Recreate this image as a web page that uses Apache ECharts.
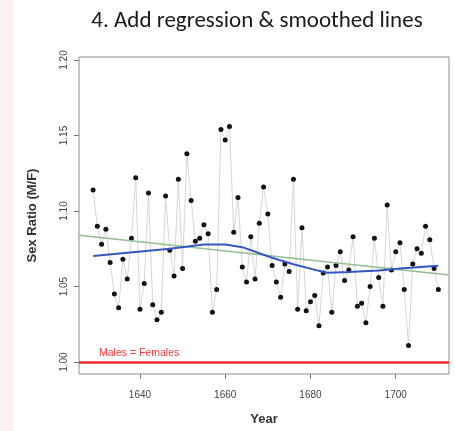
<!DOCTYPE html>
<html>
<head>
<meta charset="utf-8">
<script src="https://cdn.jsdelivr.net/npm/echarts@6/dist/echarts.min.js"></script>
<style>
  html, body { margin: 0; padding: 0; background: #ffffff; }
  #chart { width: 455px; height: 431px; }
</style>
</head>
<body>
<div id="chart"></div>
<script>
// Christenings in London: ratio of male to female births per year
const years = [
  1629, 1630, 1631, 1632, 1633, 1634, 1635, 1636, 1637, 1638, 1639,
  1640, 1641, 1642, 1643, 1644, 1645, 1646, 1647, 1648, 1649,
  1650, 1651, 1652, 1653, 1654, 1655, 1656, 1657, 1658, 1659,
  1660, 1661, 1662, 1663, 1664, 1665, 1666, 1667, 1668, 1669,
  1670, 1671, 1672, 1673, 1674, 1675, 1676, 1677, 1678, 1679,
  1680, 1681, 1682, 1683, 1684, 1685, 1686, 1687, 1688, 1689,
  1690, 1691, 1692, 1693, 1694, 1695, 1696, 1697, 1698, 1699,
  1700, 1701, 1702, 1703, 1704, 1705, 1706, 1707, 1708, 1709, 1710
];
const ratios = [
  1.114, 1.090, 1.078, 1.088, 1.066, 1.045, 1.036, 1.068, 1.055, 1.082, 1.122,
  1.035, 1.052, 1.112, 1.038, 1.028, 1.033, 1.110, 1.074, 1.057, 1.121,
  1.062, 1.138, 1.107, 1.080, 1.082, 1.091, 1.085, 1.033, 1.048, 1.154,
  1.147, 1.156, 1.086, 1.109, 1.063, 1.053, 1.083, 1.055, 1.092, 1.116,
  1.098, 1.064, 1.053, 1.043, 1.065, 1.060, 1.121, 1.035, 1.089, 1.034,
  1.040, 1.044, 1.024, 1.059, 1.063, 1.033, 1.064, 1.073, 1.054, 1.061,
  1.083, 1.037, 1.039, 1.026, 1.050, 1.082, 1.056, 1.037, 1.104, 1.061,
  1.073, 1.079, 1.048, 1.011, 1.065, 1.075, 1.072, 1.090, 1.081, 1.062, 1.048
];

// Smoothed (lowess) trend, sampled at its bends
const smoothYears  = [1629, 1647, 1655, 1660, 1664, 1671, 1676, 1682, 1684, 1689, 1696, 1701, 1710];
const smoothValues = [1.0702, 1.0750, 1.0779, 1.0779, 1.0761, 1.0691, 1.0648, 1.0604, 1.0592, 1.0596, 1.0607, 1.0619, 1.0637];

const xTicks = [1640, 1660, 1680, 1700];
const yTicks = [1.00, 1.05, 1.10, 1.15, 1.20];
const parityValue = 1.00;
const parityLabel = 'Males = Females';

const xMin = 1625.7, xMax = 1712.5;
const yMin = 0.9921, yMax = 1.2020;

// Ordinary least-squares fit of ratio on year
function leastSquares(xs, ys) {
  const n = xs.length;
  let mx = 0, my = 0;
  for (let i = 0; i < n; i++) { mx += xs[i]; my += ys[i]; }
  mx /= n; my /= n;
  let sxy = 0, sxx = 0;
  for (let i = 0; i < n; i++) {
    sxy += (xs[i] - mx) * (ys[i] - my);
    sxx += (xs[i] - mx) * (xs[i] - mx);
  }
  const slope = sxy / sxx;
  return { slope: slope, intercept: my - slope * mx };
}
const fit = leastSquares(years, ratios);
const fitLine = [xMin, xMax].map(x => [x, fit.intercept + fit.slope * x]);

const points = years.map((y, i) => [y, ratios[i]]);
const smooth = smoothYears.map((y, i) => [y, smoothValues[i]]);

const axisFont = 'Liberation Sans, Arial, sans-serif';

const chart = echarts.init(document.getElementById('chart'), null, { renderer: 'canvas' });
chart.setOption({
  animation: false,
  backgroundColor: '#ffffff',
  title: {
    text: '4. Add regression & smoothed lines',
    left: 252,
    top: 5,
    textAlign: 'center',
    textStyle: { fontFamily: 'Carlito, Lato, sans-serif', fontSize: 23, fontWeight: 'normal', color: '#1a1a1a' }
  },
  grid: {
    left: 79, right: 6, top: 57, bottom: 56,
    show: true, borderColor: '#8c8c8c', borderWidth: 1, backgroundColor: 'transparent'
  },
  xAxis: {
    type: 'value', min: xMin, max: xMax,
    name: 'Year', nameLocation: 'middle', nameGap: 39, nameMoveOverlap: false,
    nameTextStyle: { fontFamily: axisFont, fontSize: 13, fontWeight: 'bold', color: '#333' },
    axisLine: { show: false },
    axisTick: { show: true, length: 5, customValues: xTicks, lineStyle: { color: '#777' } },
    axisLabel: {
      customValues: xTicks, margin: 16,
      formatter: v => String(v),
      fontFamily: axisFont, fontSize: 10, color: '#444'
    },
    splitLine: { show: false }
  },
  yAxis: {
    type: 'value', min: yMin, max: yMax,
    name: 'Sex Ratio (M/F)', nameLocation: 'middle', nameGap: 40, nameRotate: 90, nameMoveOverlap: false,
    nameTextStyle: { fontFamily: axisFont, fontSize: 13, fontWeight: 'bold', color: '#333' },
    axisLine: { show: false },
    axisTick: { show: true, length: 5, customValues: yTicks, lineStyle: { color: '#777' } },
    axisLabel: {
      customValues: yTicks, rotate: 90, margin: 10,
      formatter: v => v.toFixed(2),
      fontFamily: axisFont, fontSize: 10, color: '#444'
    },
    splitLine: { show: false }
  },
  series: [
    {
      name: 'ratio', type: 'line', data: points,
      symbol: 'circle', symbolSize: 5, showSymbol: true,
      itemStyle: { color: '#111' },
      lineStyle: { color: '#d6d6d6', width: 1 },
      z: 2
    },
    {
      name: 'parity', type: 'line', data: [],
      markLine: {
        silent: true, symbol: 'none', label: { show: false },
        lineStyle: { color: '#ee2b2b', width: 2.5, type: 'solid' },
        data: [{ yAxis: parityValue }]
      },
      z: 3
    },
    {
      name: 'regression', type: 'line', data: fitLine,
      showSymbol: false, symbol: 'none',
      lineStyle: { color: '#8fbf8f', width: 1.5 },
      z: 4
    },
    {
      name: 'lowess', type: 'line', data: smooth,
      showSymbol: false, symbol: 'none',
      lineStyle: { color: '#3557c4', width: 2 },
      z: 5
    }
  ],
  graphic: [
    { type: 'rect', left: 0, top: 0, shape: { width: 13, height: 431 }, style: { fill: '#fdf1ed' }, silent: true }
  ]
});

// Caption for the parity line, anchored in data coordinates
const labelPos = chart.convertToPixel({ gridIndex: 0 }, [1630.4, 1.0062]);
chart.setOption({
  graphic: [
    { type: 'rect', left: 0, top: 0, shape: { width: 13, height: 431 }, style: { fill: '#fdf1ed' }, silent: true },
    {
      type: 'text', x: labelPos[0], y: labelPos[1], silent: true,
      style: { text: parityLabel, fill: '#ee3b3b', font: '10.5px ' + axisFont, textAlign: 'left', textVerticalAlign: 'middle' }
    }
  ]
});
</script>
</body>
</html>
